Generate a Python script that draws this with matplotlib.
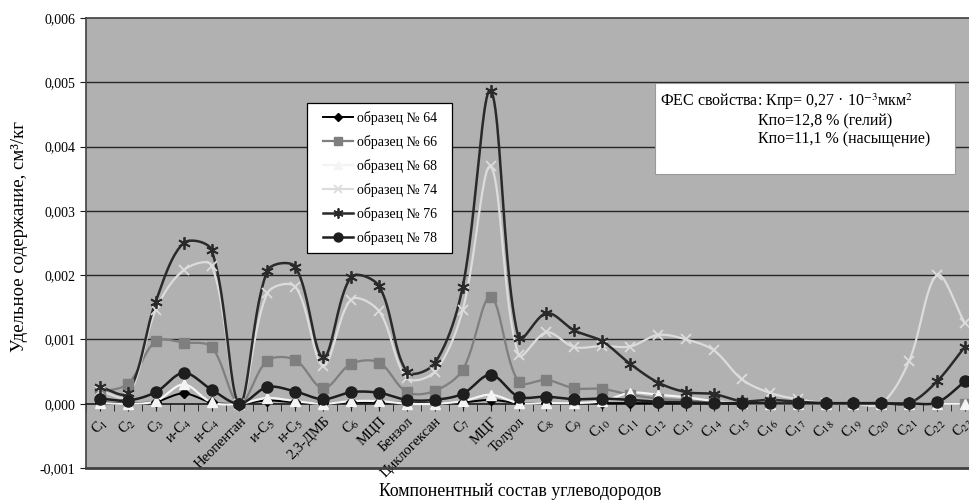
import numpy as np
import matplotlib
matplotlib.use("Agg")
import matplotlib.pyplot as plt
from matplotlib.patches import Rectangle
from matplotlib.ticker import FixedLocator, FuncFormatter

plt.rcParams['font.family'] = ['Liberation Serif', 'DejaVu Serif']
plt.rcParams['mathtext.fontset'] = 'stix'

categories = ["C$_1$", "C$_2$", "C$_3$", "и-C$_4$", "н-C$_4$", "Неопентан", "и-C$_5$", "н-C$_5$",
              "2,3-ДМБ", "C$_6$", "МЦП", "Бензол", "Циклогексан", "C$_7$", "МЦГ", "Толуол",
              "C$_8$", "C$_9$", "C$_{10}$", "C$_{11}$", "C$_{12}$", "C$_{13}$", "C$_{14}$", "C$_{15}$",
              "C$_{16}$", "C$_{17}$", "C$_{18}$", "C$_{19}$", "C$_{20}$", "C$_{21}$", "C$_{22}$", "C$_{23}$"]

# values in units of 0.001 cm3/kg
s64 = [0.02, 0.01, 0.03, 0.16, 0.02, 0.0, 0.05, 0.02, 0.01, 0.02, 0.02, 0.01, 0.01, 0.02, 0.06, 0.01,
       0.01, 0.01, 0.01, 0.01, 0.01, 0.01, 0.01, 0.0, 0.0, 0.0, 0.0, 0.0, 0.0, 0.0, 0.0, 0.0]
s66 = [0.18, 0.31, 0.97, 0.95, 0.88, 0.0, 0.67, 0.68, 0.24, 0.62, 0.64, 0.18, 0.2, 0.53, 1.66, 0.34,
       0.37, 0.24, 0.23, 0.14, 0.08, 0.05, 0.03, 0.01, 0.01, 0.0, 0.0, 0.0, 0.0, 0.0, 0.0, 0.0]
s68 = [0.01, 0.0, 0.04, 0.3, 0.02, 0.0, 0.09, 0.04, 0.0, 0.04, 0.04, 0.0, 0.0, 0.04, 0.14, 0.01,
       0.01, 0.01, 0.04, 0.17, 0.14, 0.1, 0.04, 0.01, 0.0, 0.0, 0.0, 0.0, 0.0, 0.0, 0.0, 0.0]
s74 = [0.2, 0.12, 1.46, 2.08, 2.15, 0.0, 1.72, 1.82, 0.59, 1.62, 1.44, 0.4, 0.5, 1.46, 3.69, 0.76,
       1.11, 0.88, 0.9, 0.89, 1.07, 1.0, 0.83, 0.38, 0.17, 0.07, 0.01, 0.0, 0.0, 0.67, 2.0, 1.25]
s76 = [0.26, 0.17, 1.59, 2.5, 2.39, 0.0, 2.07, 2.13, 0.72, 1.97, 1.83, 0.5, 0.63, 1.82, 4.87, 1.02,
       1.41, 1.14, 0.97, 0.62, 0.33, 0.18, 0.15, 0.04, 0.06, 0.03, 0.01, 0.01, 0.01, 0.01, 0.35, 0.89]
s78 = [0.08, 0.05, 0.18, 0.48, 0.22, 0.0, 0.26, 0.19, 0.07, 0.18, 0.17, 0.06, 0.06, 0.155, 0.45, 0.11,
       0.11, 0.07, 0.08, 0.06, 0.03, 0.02, 0.01, 0.01, 0.005, 0.005, 0.005, 0.005, 0.005, 0.005, 0.02, 0.35]
series_names = ["образец № 64", "образец № 66", "образец № 68", "образец № 74", "образец № 76", "образец № 78"]
y_ticks = [-0.001, 0.0, 0.001, 0.002, 0.003, 0.004, 0.005, 0.006]

PX_X = 27.95      # pixels per category (for smoothing geometry)
PX_Y = 64300.0    # pixels per unit value


def smooth(x, y, n=24):
    """Excel-like smoothed line: Bezier segments with control arms scaled by segment lengths."""
    P = np.column_stack([np.asarray(x, float) * PX_X, np.asarray(y, float) * PX_Y])
    m = len(P)
    fwd = np.zeros_like(P)
    bwd = np.zeros_like(P)
    for i in range(m):
        prev = P[i - 1] if i > 0 else P[i]
        nxt = P[i + 1] if i < m - 1 else P[i]
        T = nxt - prev
        d1 = np.hypot(*(P[i] - prev))
        d2 = np.hypot(*(nxt - P[i]))
        s = d1 + d2
        if s == 0:
            fwd[i] = P[i]
            bwd[i] = P[i]
            continue
        fwd[i] = P[i] + T * (d2 / s) / 3.0
        bwd[i] = P[i] - T * (d1 / s) / 3.0
    t = np.linspace(0, 1, n)[:, None]
    pts = []
    for i in range(m - 1):
        p0, p1, p2, p3 = P[i], fwd[i], bwd[i + 1], P[i + 1]
        b = (1 - t) ** 3 * p0 + 3 * (1 - t) ** 2 * t * p1 + 3 * (1 - t) * t ** 2 * p2 + t ** 3 * p3
        pts.append(b if i == 0 else b[1:])
    pts = np.vstack(pts)
    return pts[:, 0] / PX_X, pts[:, 1] / PX_Y


fig = plt.figure(figsize=(9.7, 5.04), dpi=100)
fig.patch.set_facecolor('white')
ax = fig.add_axes([86 / 970, 1 - 468 / 504, (979 - 86) / 970, (468 - 18) / 504])
ax.set_facecolor('#b1b1b1')

x = np.arange(len(categories))
styles = [
    dict(color='#000000', marker='D', ms=5, lw=1.4, mfc='#000000', mec='#000000'),
    dict(color='#7f7f7f', marker='s', ms=7, lw=1.6, mfc='#7f7f7f', mec='#7f7f7f'),
    dict(color='#f4f4f4', marker='^', ms=7, lw=1.6, mfc='#f4f4f4', mec='#f4f4f4'),
    dict(color='#dcdcdc', marker='x', ms=7, lw=1.6, mfc='#dcdcdc', mec='#dcdcdc', mew=1.3),
    dict(color='#2a2a2a', marker=(6, 2, 0), ms=9, lw=1.8, mfc='#2a2a2a', mec='#2a2a2a', mew=1.3),
    dict(color='#1e1e1e', marker='o', ms=8, lw=1.8, mfc='#1e1e1e', mec='#1e1e1e'),
]
data = [s64, s66, s68, s74, s76, s78]
for name, vals, st in zip(series_names, data, styles):
    yv = np.array(vals) / 1000.0
    sx, sy = smooth(x, yv)
    ax.plot(sx, sy, color=st['color'], lw=st['lw'], zorder=3)
    ax.plot(x, yv, ls='none', marker=st['marker'], ms=st['ms'], mfc=st['mfc'], mec=st['mec'],
            mew=st.get('mew', 1.0), zorder=4)
    ax.plot([], [], color=st['color'], lw=st['lw'], marker=st['marker'], ms=st['ms'] * 0.8,
            mfc=st['mfc'], mec=st['mec'], mew=st.get('mew', 1.0), label=name)

ax.set_xlim(-0.5, len(categories) - 0.5)
ax.set_ylim(-0.001, 0.006)
ax.yaxis.set_major_locator(FixedLocator(y_ticks))
ax.yaxis.set_major_formatter(FuncFormatter(lambda v, p: f"{v:.3f}".replace('.', ',')))
for v in y_ticks[2:-1]:
    ax.axhline(v, color='#262626', lw=1.0, zorder=1)

ax.spines['bottom'].set_position(('data', 0))
ax.spines['bottom'].set_color('#1a1a1a')
ax.spines['bottom'].set_linewidth(1.2)
for s in ['left', 'top', 'right']:
    ax.spines[s].set_color('#404040')
    ax.spines[s].set_linewidth(1.2)
ax.axhline(-0.001, color='#404040', lw=2.0, clip_on=False, zorder=5)

ax.set_xticks(x)
ax.set_xticks(np.arange(-0.5, len(categories), 1.0), minor=True)
ax.set_xticklabels(categories, rotation=45, ha='right', va='top', rotation_mode='anchor', fontsize=10.5)
ax.tick_params(axis='x', which='both', direction='out', length=5, color='#1a1a1a', pad=3)
ax.tick_params(axis='y', direction='out', length=4, labelsize=10, color='#1a1a1a')

fig.text(20 / 970, 1 - 236 / 504, "Удельное содержание, см³/кг", rotation=90, ha='center', va='center',
         fontsize=13.5)
fig.text(520 / 970, 1 - 491 / 504, "Компонентный состав углеводородов", ha='center', va='center',
         fontsize=12.8)

# legend frame drawn separately to get the wider padding of the reference
fig.patches.append(Rectangle((307 / 970, 1 - 253 / 504), 145 / 970, 150 / 504, transform=fig.transFigure,
                             facecolor='white', edgecolor='#000000', lw=0.9, zorder=8))
leg = fig.legend(loc='upper left', bbox_to_anchor=(315 / 970, 1 - 103 / 504), frameon=False,
                 fontsize=10, handlelength=2.2, labelspacing=0.72, borderpad=0.55,
                 handletextpad=0.3, borderaxespad=0.0)
leg.set_zorder(9)

fig.patches.append(Rectangle((655 / 970, 1 - 174 / 504), 300 / 970, 91 / 504, transform=fig.transFigure,
                             facecolor='white', edgecolor='#9a9a9a', lw=0.8, zorder=10))
fig.text(660 / 970, 1 - 102 / 504, "ФЕС свойства: Кпр= 0,27 · 10$^{-3}$мкм$^{2}$", ha='left', va='center',
         fontsize=11.5, zorder=11)
fig.text(758 / 970, 1 - 121 / 504, "Кпо=12,8 % (гелий)", ha='left', va='center', fontsize=11.5, zorder=11)
fig.text(758 / 970, 1 - 139 / 504, "Кпо=11,1 % (насыщение)", ha='left', va='center', fontsize=11.5, zorder=11)

fig.savefig("out.png", dpi=100)
